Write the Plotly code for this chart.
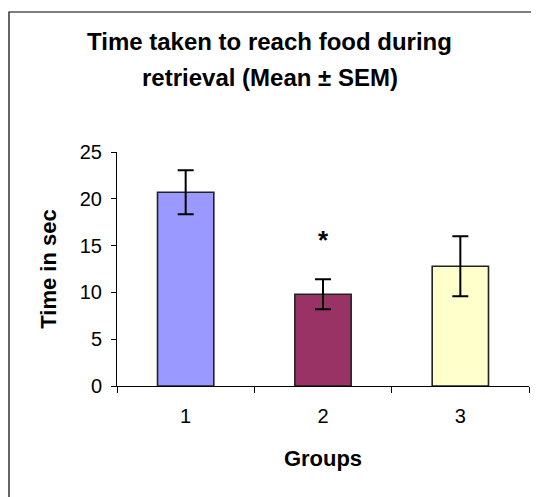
import plotly.graph_objects as go

groups = ["1", "2", "3"]
means = [20.7, 9.8, 12.8]
sem = [2.35, 1.6, 3.2]
colors = ["#9999FF", "#993366", "#FFFFCC"]
y_ticks = [0, 5, 10, 15, 20, 25]
sig_group = "2"
sig_y = 15.6

FONT = "Arial, Liberation Sans, sans-serif"
BODY = 8  # default page margin around the plot div

fig = go.Figure()
fig.add_trace(go.Bar(
    x=groups, y=means,
    marker=dict(color=colors, line=dict(color="#222222", width=1.6)),
    error_y=dict(type="data", array=sem, visible=True, color="black", thickness=2, width=8),
    width=0.41,
    showlegend=False,
))

fig.add_annotation(x=groups.index(sig_group), y=sig_y, text="<b>*</b>", showarrow=False,
                   font=dict(family=FONT, size=26, color="black"))

fig.add_annotation(xref="paper", yref="paper", x=0.371, y=(386 - 42) / 234,
                   text="<b>Time taken to reach food during</b>", showarrow=False,
                   font=dict(family=FONT, size=24, color="black"), yanchor="middle")
fig.add_annotation(xref="paper", yref="paper", x=0.371, y=(386 - 77) / 234,
                   text="<b>retrieval (Mean ± SEM)</b>", showarrow=False,
                   font=dict(family=FONT, size=24, color="black"), yanchor="middle")

# outer chart frame
fig.add_shape(type="rect", xref="paper", yref="paper",
              x0=(9 - 117) / 412, x1=(600 - 117) / 412,
              y0=(386 - 560) / 234, y1=(386 - 12) / 234,
              line=dict(color="black", width=1.2), fillcolor="rgba(0,0,0,0)", layer="below")

fig.update_layout(
    width=539 - BODY, height=497 - BODY,
    margin=dict(l=117 - BODY, r=10, t=152 - BODY, b=111, autoexpand=False),
    plot_bgcolor="white", paper_bgcolor="white",
    font=dict(family=FONT, color="black"),
    xaxis=dict(
        type="category", showline=True, linecolor="black", linewidth=1,
        ticks="outside", tickson="boundaries", ticklen=6, tickcolor="black",
        tickfont=dict(size=20), ticklabelstandoff=12, showgrid=False,
        title=dict(text="<b>Groups</b>", font=dict(size=22), standoff=24),
    ),
    yaxis=dict(
        range=[0, 25], tickvals=y_ticks, showline=True, linecolor="black", linewidth=1,
        ticks="outside", ticklen=5, tickcolor="black", tickfont=dict(size=20),
        ticklabelstandoff=5, showgrid=False, zeroline=False,
        title=dict(text="<b>Time in sec</b>", font=dict(size=22), standoff=17),
    ),
)

fig.write_html("out.html", config={"displayModeBar": False})
